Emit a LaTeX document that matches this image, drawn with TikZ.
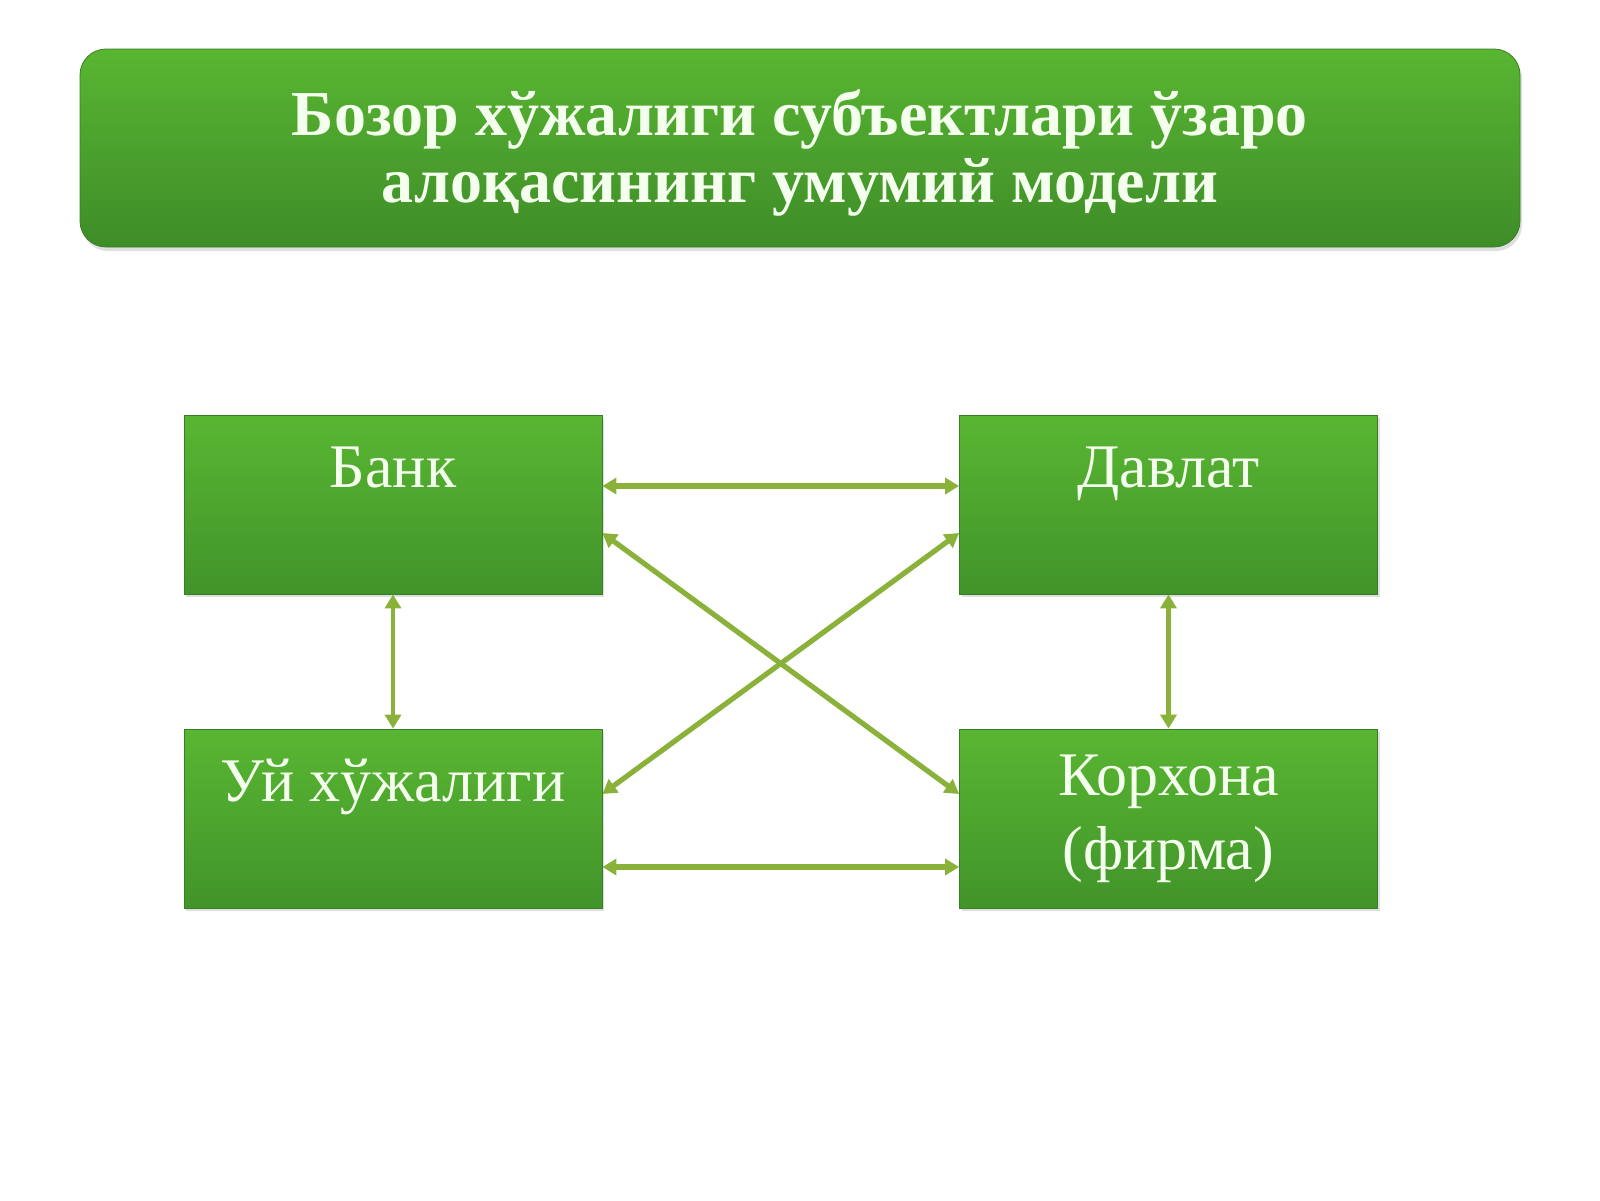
\documentclass[tikz,border=0pt]{standalone}
\usepackage{fontspec}
\setmainfont{Liberation Serif}
\usetikzlibrary{arrows.meta,shadows}
\definecolor{boxtop}{HTML}{59B632}
\definecolor{boxbot}{HTML}{41942A}
\definecolor{linkgreen}{HTML}{8AB23A}
\definecolor{labelwhite}{HTML}{F4FFEE}
\begin{document}
\begin{tikzpicture}[x=0.5pt,y=-0.5pt]
		\tikzstyle{subj}=[rectangle,top color=boxtop,bottom color=boxbot,draw=boxbot!85!black,line width=0.4pt,
			minimum width=209pt,minimum height=89.5pt,inner sep=0pt,text=labelwhite,align=center,
			font=\fontsize{31}{37}\selectfont,drop shadow={shadow xshift=1pt,shadow yshift=-1.5pt,opacity=0.25}]
		\tikzstyle{oneline}=[text height=36pt,text depth=53.5pt]
		\tikzstyle{heading}=[rounded corners=13pt,top color=boxtop,bottom color=boxbot!95!black,draw=boxbot!85!black,line width=0.4pt,
			minimum width=720pt,minimum height=99pt,inner sep=0pt,text=labelwhite,align=center,
			font=\bfseries\fontsize{32}{33.5}\selectfont,drop shadow={shadow xshift=1pt,shadow yshift=-2pt,opacity=0.25}]
		\tikzstyle{link}=[draw=linkgreen,line width=2.6pt,{Triangle[length=7pt,width=8pt]}-{Triangle[length=7pt,width=8pt]}]

		\useasboundingbox (0,0) rectangle (1600,1200);

		\node[heading,text height=76.5pt,text depth=22.5pt] (title) at (800,148) {Бозор хўжалиги субъектлари ўзаро\\алоқасининг умумий модели};

		\node[subj,oneline] (bank) at (393,504.5) {Банк};
		\node[subj,oneline] (davlat) at (1168.5,504.5) {Давлат};
		\node[subj,oneline] (uy) at (393,818.5) {Уй хўжалиги};
		\node[subj] (korxona) at (1168.5,818.5) {Корхона\\(фирма)};

		\draw[link] ([yshift=9.25pt]bank.east) -- ([yshift=9.25pt]davlat.west);
		\draw[link] ([yshift=-24.25pt]uy.east) -- ([yshift=-24.25pt]korxona.west);
		\draw[link] ([yshift=-14.25pt]bank.east) -- ([yshift=12.25pt]korxona.west);
		\draw[link] ([yshift=12.25pt]uy.east) -- ([yshift=-14.25pt]davlat.west);
		\draw[link,line width=2.1pt] (bank.south) -- (uy.north);
		\draw[link,line width=2.1pt] (davlat.south) -- (korxona.north);
\end{tikzpicture}
\end{document}
